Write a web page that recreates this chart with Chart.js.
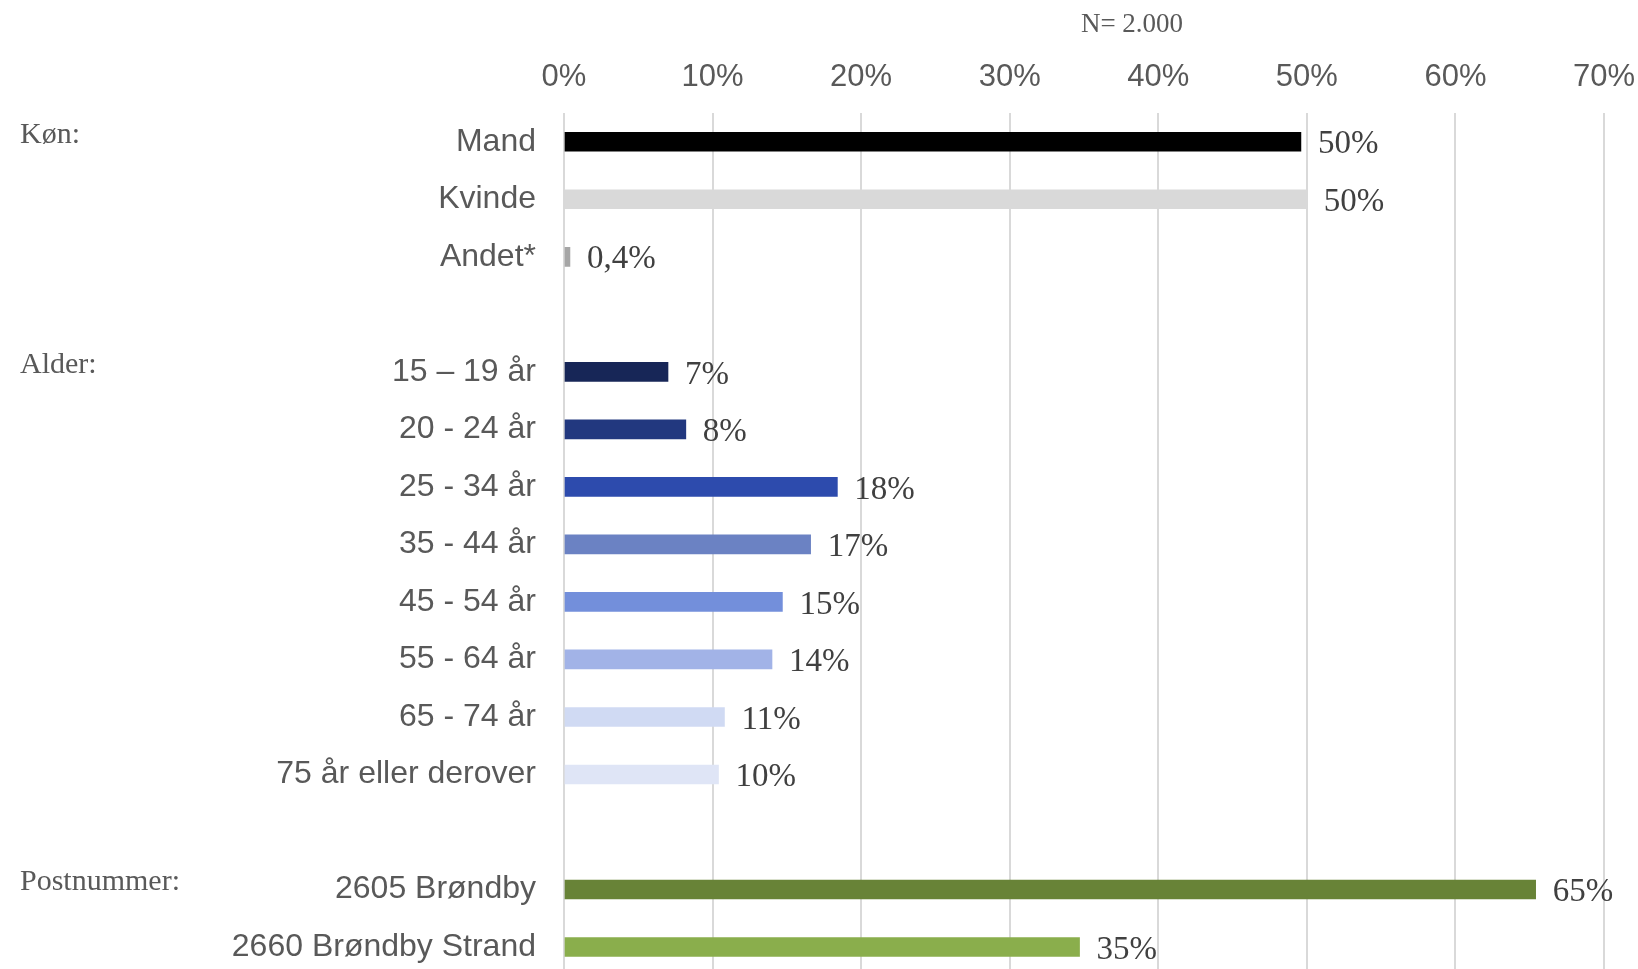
<!DOCTYPE html>
<html>
<head>
<meta charset="utf-8">
<script src="https://cdn.jsdelivr.net/npm/chart.js@4.4.1/dist/chart.umd.min.js"></script>
<style>
  html, body { margin: 0; padding: 0; background: #fff; overflow: hidden; }
  #wrap { width: 1638px; height: 1023px; }
</style>
</head>
<body>
<div id="wrap"><canvas id="chart" width="1638" height="1023"></canvas></div>
<script>
// ------------------------------------------------------------
// Data — respondent profile (N = 2.000)
// ------------------------------------------------------------
const categories = [
    'Mand', 'Kvinde', 'Andet*', '',
    '15 – 19 år', '20 - 24 år', '25 - 34 år', '35 - 44 år',
    '45 - 54 år', '55 - 64 år', '65 - 74 år', '75 år eller derover', '',
    '2605 Brøndby', '2660 Brøndby Strand'
];
const shares = [49.6, 50.0, 0.4, null, 7.0, 8.2, 18.4, 16.6, 14.7, 14.0, 10.8, 10.4, null, 65.4, 34.7];
const shareLabels = ['50%', '50%', '0,4%', '', '7%', '8%', '18%', '17%', '15%', '14%', '11%', '10%', '', '65%', '35%'];
const barColors = [
    '#000000', '#d9d9d9', '#a6a6a6', '#ffffff',
    '#172657', '#22387f', '#2d4bad', '#6b82c3', '#738fdb', '#a2b3e7', '#d0daf3', '#dfe5f6', '#ffffff',
    '#688337', '#8aae4c'
];
const xTicks = [0, 10, 20, 30, 40, 50, 60, 70];
const sectionNames = ['Køn:', 'Alder:', 'Postnummer:'];
const sectionRows = [0, 4, 13];
const sampleText = 'N= 2.000';

// ------------------------------------------------------------
// Plugins — value labels, section headings, N note
// ------------------------------------------------------------
const valueLabelPlugin = {
    id: 'valueLabels',
    afterDatasetsDraw(chart) {
        const ctx = chart.ctx;
        const meta = chart.getDatasetMeta(0);
        ctx.save();
        ctx.font = '33px "Liberation Serif", "Times New Roman", serif';
        ctx.fillStyle = '#404040';
        ctx.textAlign = 'left';
        ctx.textBaseline = 'middle';
        meta.data.forEach((bar, i) => {
            if (shares[i] == null) return;
            ctx.fillText(shareLabels[i], bar.x + 17, bar.y + 3);
        });
        ctx.restore();
    }
};

const sectionPlugin = {
    id: 'sections',
    afterDraw(chart) {
        const ctx = chart.ctx;
        const y = chart.scales.y;
        ctx.save();
        ctx.font = '30px "Liberation Serif", "Times New Roman", serif';
        ctx.fillStyle = '#595959';
        ctx.textAlign = 'left';
        ctx.textBaseline = 'middle';
        sectionNames.forEach((name, i) => {
            ctx.fillText(name, 20, y.getPixelForValue(sectionRows[i]) - 7);
        });
        // sample size note
        ctx.font = '27px "Liberation Serif", "Times New Roman", serif';
        ctx.textAlign = 'center';
        ctx.fillText(sampleText, 1132, 25);
        ctx.restore();
    }
};

// ------------------------------------------------------------
// Chart
// ------------------------------------------------------------
const ctx = document.getElementById('chart').getContext('2d');
new Chart(ctx, {
    type: 'bar',
    data: {
        labels: categories,
        datasets: [{
            data: shares,
            backgroundColor: barColors,
            barThickness: 19,
            borderWidth: 0
        }]
    },
    options: {
        indexAxis: 'y',
        responsive: false,
        animation: false,
        layout: { padding: { left: 0, right: 34, top: 0, bottom: 4 } },
        plugins: {
            legend: { display: false },
            tooltip: { enabled: false }
        },
        scales: {
            x: {
                position: 'top',
                min: 0,
                max: 70,
                afterBuildTicks: scale => { scale.ticks = xTicks.map(v => ({ value: v })); },
                afterFit: scale => {
                    scale.height = 113;
                    scale.paddingLeft = 0;
                    scale.paddingRight = 0;
                },
                ticks: {
                    color: '#595959',
                    padding: 17,
                    font: { family: '"Liberation Sans", Arial, sans-serif', size: 31 },
                    callback: val => `${val}%`
                },
                grid: { color: '#d9d9d9', lineWidth: 2, drawTicks: false },
                border: { display: false }
            },
            y: {
                afterFit: scale => { scale.width = 564; },
                ticks: {
                    color: '#595959',
                    padding: 28,
                    autoSkip: false,
                    font: { family: '"Liberation Sans", Arial, sans-serif', size: 32 }
                },
                grid: { display: false, drawTicks: false },
                border: { display: false }
            }
        }
    },
    plugins: [valueLabelPlugin, sectionPlugin]
});
</script>
</body>
</html>
